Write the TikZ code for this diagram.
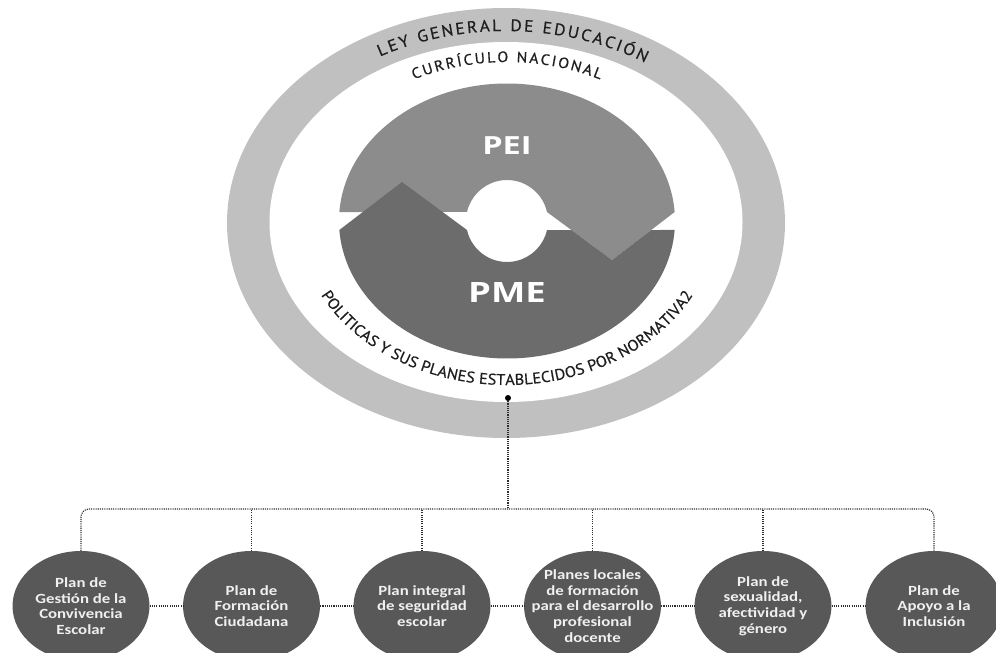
\documentclass[tikz,border=0pt]{standalone}
\usepackage{fontspec}
\setmainfont{Open Sans}
\newfontfamily\ringfont[FakeStretch=1.05,FakeBold=0.5]{PT Sans}
\newfontfamily\bigfont[FakeStretch=1.3]{Open Sans}
\newfontfamily\planfont[FakeStretch=1.2]{Carlito}
\usetikzlibrary{shapes.geometric,decorations.text}
\definecolor{ringgray}{RGB}{192,192,192}
\definecolor{peigray}{RGB}{140,140,140}
\definecolor{pmegray}{RGB}{108,108,108}
\definecolor{plangray}{RGB}{88,88,88}
\definecolor{dotgray}{RGB}{45,45,45}
\definecolor{textgray}{RGB}{30,30,30}
\begin{document}
\begin{tikzpicture}[x=1pt,y=-1pt,
  conn/.style={draw=dotgray, line width=1.2pt, dash pattern=on 1.1pt off 1.1pt},
  plan/.style={ellipse, fill=plangray, minimum width=137pt, minimum height=110pt, inner sep=0pt},
  plantext/.style={align=center, text=white!94!black, font=\planfont\bfseries\fontsize{14}{15.6}\selectfont},
  bigtext/.style={text=white, font=\bigfont\bfseries},
  dotnode/.style={circle, fill=black, inner sep=0pt, minimum size=6pt},
  ringtext/.style={decorate, decoration={text along path, text align={fit to path}, text color=textgray, text={#1}}}
]
\useasboundingbox (0,0) rectangle (996,653);
% outer ring
\fill[ringgray] (506,223) ellipse [x radius=279, y radius=215];
\fill[white] (506,222) ellipse [x radius=236.5, y radius=180];
% PEI / PME
\begin{scope}[shift={(507,221)}]
  \fill[peigray] (183.75:168 and 137.5) arc[start angle=183.75, end angle=356.25, x radius=168, y radius=137.5]
     -- (105,39) -- (347.3:41) arc[start angle=347.3, end angle=192.7, radius=41] -- cycle;
  \fill[pmegray] (176.25:168 and 137.5) -- (-105,-39) -- (167.3:41) arc[start angle=167.3, end angle=12.7, radius=41]
     -- (64.4,9) -- (105,39) -- (144.2,9) -- (3.75:168 and 137.5)
     arc[start angle=3.75, end angle=176.25, x radius=168, y radius=137.5] -- cycle;
\end{scope}
\node[bigtext, font=\bigfont\bfseries\fontsize{25}{25}\selectfont] (pei) at (507,146) {PEI};
\node[bigtext, font=\bigfont\bfseries\fontsize{28}{28}\selectfont] (pme) at (507,293) {PME};
% curved texts
\path[ringtext={|\ringfont\fontsize{16.5}{16.5}\selectfont|LEY GENERAL DE EDUCACIÓN}]
  ([shift={(506,222)}]240:252 and 191) arc[start angle=240, end angle=303.5, x radius=252, y radius=191];
\path[ringtext={|\ringfont\fontsize{15}{15}\selectfont|CURRÍCULO NACIONAL}]
  ([shift={(507,222)}]243:205 and 160) arc[start angle=243, end angle=297, x radius=205, y radius=160];
\path[ringtext={|\ringfont\fontsize{15.5}{15.5}\selectfont|POLITICAS Y SUS PLANES ESTABLECIDOS POR NORMATIVA2}]
  ([shift={(507,222)}]153.4:208 and 163) arc[start angle=153.4, end angle=26.6, x radius=208, y radius=163];
% plans
\node[plan] (p1) at (81,606) {};
\node[plan] (p2) at (251.5,606) {};
\node[plan] (p3) at (422,606) {};
\node[plan] (p4) at (592.5,606) {};
\node[plan] (p5) at (763,606) {};
\node[plan] (p6) at (934,606) {};
\node[plantext] (t1) at (p1.center) {Plan de\\Gestión de la\\Convivencia\\Escolar};
\node[plantext] (t2) at (p2.center) {Plan de\\Formación\\Ciudadana};
\node[plantext] (t3) at (p3.center) {Plan integral\\de seguridad\\escolar};
\node[plantext] (t4) at (p4.center) {Planes locales\\de formación\\para el desarrollo\\profesional\\docente};
\node[plantext] (t5) at (p5.center) {Plan de\\sexualidad,\\afectividad y\\género};
\node[plantext] (t6) at (p6.center) {Plan de\\Apoyo a la\\Inclusión};
% connectors
\coordinate (bus) at (508,509);
\node[dotnode] (dot) at (508,398) {};
\draw[conn] (dot) -- (bus);
\draw[conn, rounded corners=8pt] (p1.north) |- (bus) -| (p6.north);
\foreach \i in {2,3,4,5} { \draw[conn] (p\i.north) -- (p\i.north |- bus); }
\draw[conn] (p1.east) -- (p2.west);
\draw[conn] (p2.east) -- (p3.west);
\draw[conn] (p3.east) -- (p4.west);
\draw[conn] (p4.east) -- (p5.west);
\draw[conn] (p5.east) -- (p6.west);
\end{tikzpicture}
\end{document}
